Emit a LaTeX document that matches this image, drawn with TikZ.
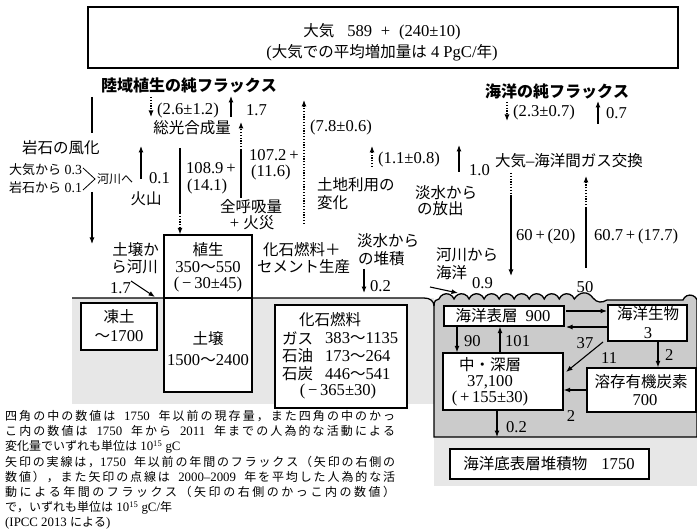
\documentclass[tikz,border=0pt]{standalone}
\usepackage{fontspec}
\setmainfont{Liberation Serif}[Scale=1.07]
\newfontfamily\jp{Noto Sans CJK JP}
\usetikzlibrary{arrows.meta}
\makeatletter
\XeTeXinterchartokenstate=1
\newXeTeXintercharclass\cjkclass
\def\setcjkrange#1#2{\count@=#1\relax
  \loop\ifnum\count@<#2\relax \XeTeXcharclass\count@=\cjkclass\relax \advance\count@\@ne \repeat}
\setcjkrange{"3000}{"3100}
\setcjkrange{"4E00}{"A000}
\setcjkrange{"FF00}{"FFF0}
\XeTeXinterchartoks 0 \cjkclass = {\begingroup\jp}
\XeTeXinterchartoks 4095 \cjkclass = {\begingroup\jp}
\XeTeXinterchartoks \cjkclass 0 = {\endgroup}
\XeTeXinterchartoks \cjkclass 4095 = {\endgroup}
\XeTeXinterchartoks \cjkclass \cjkclass = {\hskip 0pt plus 0.6pt\relax}
\makeatother
\definecolor{landgray}{HTML}{E7E7E7}
\definecolor{seagray}{HTML}{CBCBCB}
\tikzset{
  lbl/.style={inner sep=0pt, font=\fontsize{15.5pt}{18pt}\selectfont},
  ttl/.style={inner sep=0pt, font=\fontsize{16pt}{19pt}\selectfont\bfseries},
  sml/.style={inner sep=0pt, font=\fontsize{13pt}{15pt}\selectfont},
  note/.style={inner sep=0pt, anchor=west, font=\fontsize{12pt}{14pt}\selectfont},
  boxn/.style={draw, line width=1.4pt, fill=white, inner sep=0pt},
  arr/.style={line width=1.1pt, -{Latex[length=6.5pt,width=5pt]}},
  dotl/.style={line width=1.1pt, dash pattern=on 1.2pt off 1.6pt},
  darr/.style={dotl, -{Latex[length=6.5pt,width=5pt]}},
  plainl/.style={line width=1.1pt},
}
\begin{document}
\begin{tikzpicture}[x=1pt,y=-1pt]
\useasboundingbox (0,0) rectangle (697,532);
% background ground
\fill[landgray] (72,298) rectangle (434,404);
\fill[landgray] (434,437) rectangle (697,486);
% ocean
\draw[line width=1.3pt, fill=seagray] (434,437) -- (434,306) .. controls (434,301) and (436,299) .. (439,299)
  \foreach \i in {1,...,9} { arc[start angle=200,end angle=340,radius=8] }
  .. controls (580,291) and (588,291) .. (593,298) .. controls (597,303) and (602,303) .. (607,300)
  -- (683,300) arc[start angle=200,end angle=340,radius=7.5] -- (697,300) -- (697,437) -- cycle;
% land surface
\draw[line width=1.3pt] (72,298) -- (424,298) .. controls (430,298) and (434,301) .. (434,306);

% boxes
\node[boxn, minimum width=590pt, minimum height=61pt] (atm) at (383,37.5) {};
\node[boxn, minimum width=88pt, minimum height=63pt] (veg) at (208,266.5) {};
\node[boxn, minimum width=88pt, minimum height=94pt] (soil) at (208,345) {};
\node[boxn, minimum width=76pt, minimum height=47pt] (perma) at (119,326.5) {};
\node[boxn, minimum width=132pt, minimum height=103pt] (fossil) at (341,356.5) {};
\node[boxn, minimum width=120pt, minimum height=20pt] (surf) at (504,316) {};
\node[boxn, minimum width=79pt, minimum height=36pt] (biota) at (647.5,323) {};
\node[boxn, minimum width=120pt, minimum height=57pt] (deep) at (503,381.5) {};
\node[boxn, minimum width=109pt, minimum height=44pt] (doc) at (641.5,390) {};
\node[boxn, minimum width=199pt, minimum height=30pt] (sed) at (549.5,464) {};

% atmosphere text
\node[lbl] (atmA) at (382,32) {大気\hspace{13pt}589 \;+\; (240±10)};
\node[lbl] (atmB) at (382,53) {(大気での平均増加量は 4 PgC/年)};

% land net flux
\node[ttl] (landnet) at (189,85) {陸域植生の純フラックス};
\draw[darr] (151,97) -- (151,117);
\node[lbl, anchor=west] (n26) at (157,111) {(2.6±1.2)};
\draw[arr] (231,117) -- (231,96);
\node[lbl, anchor=west] (n17) at (246,110) {1.7};
\node[lbl] (gpp) at (192,128) {総光合成量};

% photosynthesis
\coordinate (ps0) at (180,148); \coordinate (ps1) at (180,213);
\draw[plainl] (ps0) -- (ps1);
\draw[darr] (ps1) -- (ps1 |- veg.north);
\node[lbl, anchor=west] (n1089) at (186,168) {108.9\,+};
\node[lbl, anchor=west] (n141) at (187,187) {(14.1)};
% respiration
\coordinate (rs0) at (241,198); \coordinate (rs1) at (241,150); \coordinate (rs2) at (241,122);
\draw[plainl] (rs0) -- (rs1);
\draw[darr] (rs1) -- (rs2);
\node[lbl, anchor=west] (n1072) at (249,155) {107.2\,+};
\node[lbl, anchor=west] (n116) at (251,173) {(11.6)};
\node[lbl] (resp1) at (251,207) {全呼吸量};
\node[lbl] (resp2) at (252,223) {+ 火災};
% land use
\draw[darr] (304,224) -- (304,100);
\node[lbl, anchor=west] (n78) at (310,128) {(7.8±0.6)};
\node[lbl, anchor=west] (lu1) at (317,185) {土地利用の};
\node[lbl, anchor=west] (lu2) at (317,203) {変化};
% freshwater release
\draw[darr] (372,167) -- (372,146);
\node[lbl, anchor=west] (n11) at (378,160) {(1.1±0.8)};
\draw[arr] (459,172) -- (459,145);
\node[lbl, anchor=west] (n10) at (469,170) {1.0};
\node[lbl, anchor=west] (fw1) at (415,193) {淡水から};
\node[lbl, anchor=west] (fw2) at (417,209) {の放出};
% gas exchange
\node[lbl, anchor=west] (gas) at (495,161) {大気–海洋間ガス交換};
\node[ttl] (seanet) at (557,91) {海洋の純フラックス};
\draw[darr] (507,102) -- (507,121);
\node[lbl, anchor=west] (n23) at (513,113) {(2.3±0.7)};
\draw[arr] (598,124) -- (598,101);
\node[lbl, anchor=west] (n07) at (606,113) {0.7};
\draw[dotl] (511,173) -- (511,195);
\draw[arr] (511,195) -- (511,276);
\node[lbl, anchor=west] (n60) at (516,237) {60\,+\,(20)};
\draw[plainl] (586,268) -- (586,208);
\draw[darr] (586,208) -- (586,176);
\node[lbl, anchor=west] (n607) at (594,237) {60.7\,+\,(17.7)};

% weathering
\draw[plainl] (92,97) -- (92,133);
\node[lbl] (weath) at (61,148) {岩石の風化};
\node[sml, anchor=west] (w1) at (9,170) {大気から 0.3};
\node[sml, anchor=west] (w2) at (9,188) {岩石から 0.1};
\draw[line width=0.8pt] (83,168) -- (95,179) -- (83,190);
\node[sml, anchor=west, font=\fontsize{12pt}{14pt}\selectfont] (river) at (97,179) {河川へ};
\draw[arr] (92,192) -- (92,244);
\draw[arr] (141,179) -- (141,146);
\node[lbl, anchor=west] (n01) at (149,178) {0.1};
\node[lbl] (volc) at (146,199) {火山};

% soil to river
\node[lbl, anchor=east] (sr1) at (159,250) {土壌か};
\node[lbl, anchor=east] (sr2) at (158,267) {ら河川};
\node[lbl, anchor=west] (n17b) at (110,288) {1.7};
\draw[arr] (131,281) -- (155,297);

% box texts
\node[lbl] at (208,250) {植生};
\node[lbl] at (208,267) {350〜550};
\node[lbl] at (208,285) {(\,−\,30±45)};
\node[lbl] at (208,339) {土壌};
\node[lbl] at (208,360) {1500〜2400};
\node[lbl] at (119,317) {凍土};
\node[lbl] at (119,336) {〜1700};
\node[lbl] at (330,320) {化石燃料};
\node[lbl, anchor=west] at (282,338) {ガス};
\node[lbl, anchor=west] at (325,338) {383〜1135};
\node[lbl, anchor=west] at (282,356) {石油};
\node[lbl, anchor=west] at (325,356) {173〜264};
\node[lbl, anchor=west] at (282,374) {石炭};
\node[lbl, anchor=west] at (325,374) {446〜541};
\node[lbl] at (338,392) {(\,−\,365±30)};

% fossil fuel / freshwater / river
\node[lbl, anchor=west] (ff1) at (263,250) {化石燃料＋};
\node[lbl, anchor=west] (ff2) at (257,267) {セメント生産};
\node[lbl, anchor=west] (fd1) at (357,241) {淡水から};
\node[lbl, anchor=west] (fd2) at (358,259) {の堆積};
\draw[arr] (364,269) -- (364,293);
\node[lbl, anchor=west] (n02) at (370,286) {0.2};
\node[lbl, anchor=west] (ro1) at (436,255) {河川から};
\node[lbl, anchor=west] (ro2) at (436,273) {海洋};
\node[lbl, anchor=west] (n09) at (472,283) {0.9};
\draw[arr] (430,287) -- (458,293);
\node[lbl] (n50) at (585,287) {50};

% ocean texts
\node[lbl] at (503,316) {海洋表層\hspace{8pt}900};
\node[lbl] at (648,314) {海洋生物};
\node[lbl] at (648,333) {3};
\node[lbl] at (490,365) {中・深層};
\node[lbl] at (490,382) {37,100};
\node[lbl] at (490,399) {(\,+\,155±30)};
\node[lbl] at (641,382) {溶存有機炭素};
\node[lbl] at (645,400) {700};
\node[lbl] at (549,464) {海洋底表層堆積物\hspace{14pt}1750};
% ocean arrows
\draw[arr] (566,311) -- (607,311);
\draw[arr] (607,327) -- (566,327);
\node[lbl] at (585,343) {37};
\draw[arr] (457,0 |- surf.south) -- (457,0 |- deep.north);
\node[lbl, anchor=west] at (464,341) {90};
\draw[arr] (500,0 |- deep.north) -- (500,0 |- surf.south);
\node[lbl, anchor=west] at (505,341) {101};
\draw[arr] (603,342) -- (566,372);
\node[lbl, anchor=west] at (601,358) {11};
\draw[arr] (658,0 |- biota.south) -- (658,0 |- doc.north);
\node[lbl, anchor=west] at (665,355) {2};
\draw[arr] (doc.west) -- (deep.east |- doc.west);
\node[lbl] at (571,416) {2};
\draw[arr] (497,0 |- deep.south) -- (497,437);
\node[lbl, anchor=west] at (506,427) {0.2};

% notes
\node[note] at (5,416) {\makebox[390pt][s]{四角の中の数値は 1750 年以前の現存量，また四角の中のかっ}};
\node[note] at (5,431) {\makebox[390pt][s]{こ内の数値は 1750 年から 2011 年までの人為的な活動による}};
\node[note] at (5,447) {変化量でいずれも単位は 10\textsuperscript{15} gC};
\node[note] at (5,462) {\makebox[390pt][s]{矢印の実線は，1750 年以前の年間のフラックス（矢印の右側の}};
\node[note] at (5,477) {\makebox[390pt][s]{数値），また矢印の点線は 2000–2009 年を平均した人為的な活}};
\node[note] at (5,492) {\makebox[390pt][s]{動による年間のフラックス（矢印の右側のかっこ内の数値）}};
\node[note] at (5,508) {で，いずれも単位は 10\textsuperscript{15} gC/年};
\node[note] at (5,523) {(IPCC 2013 による)};
\end{tikzpicture}
\end{document}
